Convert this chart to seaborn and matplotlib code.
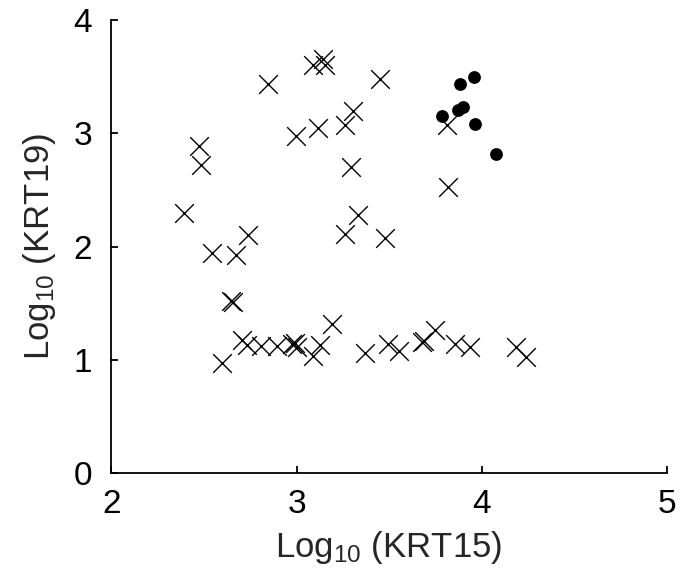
import matplotlib
matplotlib.use("Agg")
import matplotlib.pyplot as plt
import seaborn as sns
import pandas as pd

# Non-overlapping group (crosses)
cross_krt15 = [2.844, 3.087, 3.145, 3.155, 3.451, 3.307, 3.262, 3.118, 2.997,
               2.475, 2.484, 3.293, 2.394, 3.331, 3.262, 3.478, 2.740, 2.545,
               2.671, 2.645, 2.655, 2.596, 2.704, 2.730, 2.810, 2.895, 2.975,
               2.990, 3.005, 3.190, 3.127, 3.087, 3.370, 3.496, 3.556, 3.680,
               3.690, 3.749, 3.857, 3.938, 4.185, 4.239, 3.812, 3.820]
cross_krt19 = [3.438, 3.605, 3.655, 3.605, 3.480, 3.200, 3.076, 3.047, 2.973,
               2.893, 2.717, 2.700, 2.297, 2.280, 2.111, 2.076, 2.105, 1.943,
               1.928, 1.520, 1.510, 0.975, 1.178, 1.130, 1.125, 1.125, 1.140,
               1.150, 1.120, 1.320, 1.134, 1.037, 1.060, 1.140, 1.080, 1.160,
               1.170, 1.267, 1.140, 1.120, 1.120, 1.030, 3.076, 2.530]

# Filled-dot group
dot_krt15 = [3.959, 3.884, 3.902, 3.875, 3.788, 3.965, 4.078]
dot_krt19 = [3.500, 3.435, 3.232, 3.208, 3.149, 3.082, 2.820]

x_ticks = [2, 3, 4, 5]
y_ticks = [0, 1, 2, 3, 4]

cross_df = pd.DataFrame({"KRT15": cross_krt15, "KRT19": cross_krt19})
dot_df = pd.DataFrame({"KRT15": dot_krt15, "KRT19": dot_krt19})

sns.set_style("ticks")
plt.rcParams["font.family"] = ["Liberation Sans", "DejaVu Sans"]
plt.rcParams["mathtext.fontset"] = "custom"
plt.rcParams["mathtext.rm"] = "Liberation Sans"
plt.rcParams["mathtext.it"] = "Liberation Sans"
plt.rcParams["mathtext.default"] = "regular"

fig = plt.figure(figsize=(6.92, 5.78), dpi=100)
ax = fig.add_axes([0.161, 0.1808, 0.8025, 0.7846])

sns.scatterplot(data=cross_df, x="KRT15", y="KRT19", marker="x", color="black",
                s=180, linewidth=1.0, ax=ax, zorder=3)
sns.scatterplot(data=dot_df, x="KRT15", y="KRT19", marker="o", color="black",
                s=85, edgecolor="black", linewidth=0, ax=ax, zorder=4)

ax.set_xlim(2, 5)
ax.set_ylim(0, 4)
ax.set_xticks(x_ticks)
ax.set_yticks(y_ticks)
ax.set_xticklabels([str(t) for t in x_ticks])
ax.set_yticklabels([str(t) for t in y_ticks])

for s in ["top", "right"]:
    ax.spines[s].set_visible(False)
for s in ["left", "bottom"]:
    ax.spines[s].set_linewidth(1.3)
    ax.spines[s].set_color("black")

ax.tick_params(axis="both", direction="in", length=5, width=1.3,
               labelsize=24, colors="black")
ax.tick_params(axis="x", pad=11)
ax.tick_params(axis="y", pad=14)

ax.set_xlabel(r"Log$_{10}$ (KRT15)", fontsize=25, labelpad=7)
ax.set_ylabel(r"Log$_{10}$ (KRT19)", fontsize=25, labelpad=11)

fig.savefig("out.png", dpi=100, facecolor="white")
